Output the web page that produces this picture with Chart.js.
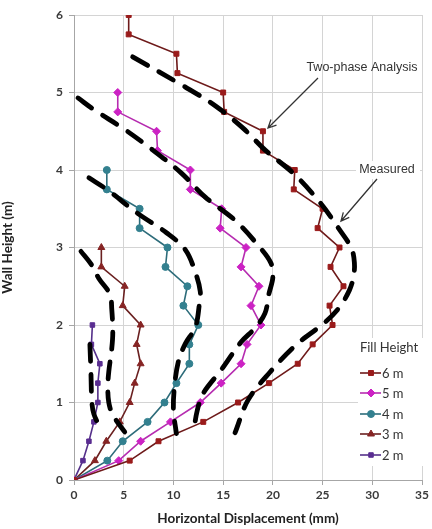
<!DOCTYPE html>
<html>
<head>
<meta charset="utf-8">
<script src="https://cdn.jsdelivr.net/npm/chart.js@4.4.0/dist/chart.umd.min.js"></script>
<style>
    html, body { margin: 0; padding: 0; background: #fff; }
    #wrap { width: 432px; height: 529px; }
</style>
</head>
<body>
<div id="wrap"><canvas id="wall_chart" width="432" height="529"></canvas></div>
<script>
// wall heights at which the two-phase analysis was evaluated (m)
var wallHeight = [0, 0.25, 0.5, 0.75, 1, 1.25, 1.5, 1.75, 2, 2.25, 2.5, 2.75, 3, 3.25, 3.5, 3.75, 4, 4.25, 4.5, 4.75, 5, 5.25, 5.5, 5.75, 6];

// two-phase analysis, horizontal displacement (mm), bottom to top
var analysis6m = [0, 5.6, 8.5, 13.0, 16.5, 19.6, 22.5, 24.0, 26.0, 25.7, 27.1, 25.8, 26.7, 24.5, 25.0, 22.1, 22.2, 19.0, 19.0, 15.1, 15.0, 10.4, 10.3, 5.5, 5.5];
var analysis5m = [0, 4.5, 6.7, 9.7, 12.7, 14.8, 16.8, 17.4, 18.8, 17.8, 18.6, 16.8, 17.3, 14.7, 14.85, 11.7, 11.7, 8.4, 8.3, 4.4, 4.4];
var analysis4m = [0, 3.35, 4.9, 7.4, 9.1, 10.3, 11.6, 11.6, 12.5, 11.0, 11.4, 9.2, 9.4, 6.6, 6.6, 3.3, 3.3];
var analysis3m = [0, 2.1, 3.25, 4.6, 5.6, 6.1, 6.7, 6.3, 6.7, 4.9, 5.1, 2.75, 2.75];
var analysis2m = [0, 0.9, 1.5, 2.0, 2.4, 2.4, 2.6, 1.75, 1.85];

// measured profiles (dashed)
var measured6mX = [5.9, 11.2, 14.2, 17.0, 19.2, 22.2, 24.8, 26.7, 27.9, 28.2, 28.1, 27.7, 26.7, 25.2, 22.3, 19.7, 17.5, 16.2];
var measured6mY = [5.46, 5.07, 4.83, 4.54, 4.26, 3.94, 3.57, 3.23, 2.99, 2.8, 2.62, 2.45, 2.23, 2.03, 1.74, 1.39, 1.03, 0.61];
var measured5mX = [0.4, 2.1, 4.9, 7.9, 10.8, 13.2, 16.2, 18.7, 19.8, 20.0, 19.6, 19.2, 18.2, 16.8, 14.8, 13.0, 12.4, 12.0];
var measured5mY = [4.93, 4.77, 4.54, 4.26, 3.96, 3.65, 3.35, 3.0, 2.8, 2.62, 2.4, 2.15, 1.96, 1.78, 1.42, 1.12, 0.9, 0.6];
var measured4mX = [1.5, 3.4, 6.4, 9.3, 11.2, 12.2, 12.7, 12.6, 12.2, 11.2, 10.5, 10.1, 10.0, 10.3];
var measured4mY = [3.9, 3.74, 3.44, 3.19, 2.97, 2.68, 2.43, 2.26, 1.97, 1.76, 1.53, 1.2, 0.9, 0.6];
var measured3mX = [0.7, 1.8, 2.5, 3.6, 3.8, 3.9, 3.8, 3.5, 3.4, 3.5, 3.9, 5.1];
var measured3mY = [2.95, 2.77, 2.6, 2.4, 2.2, 1.9, 1.7, 1.4, 1.2, 1.0, 0.84, 0.62];
var measured2mX = [1.6, 1.7, 1.8, 2.0, 2.6];
var measured2mY = [1.75, 1.4, 1.0, 0.85, 0.68];

var fillLabels = ["6 m", "5 m", "4 m", "3 m", "2 m"];
var xTicks = [0, 5, 10, 15, 20, 25, 30, 35];
var yTicks = [0, 1, 2, 3, 4, 5, 6];

function pairs(xs, ys) {
    return xs.map(function (x, i) { return { x: x, y: ys[i] }; });
}

function analysisSet(label, values, line, marker, style, radius) {
    return {
        label: label,
        data: pairs(values, wallHeight),
        showLine: true,
        borderColor: line,
        borderWidth: 1.6,
        backgroundColor: marker,
        pointBackgroundColor: marker,
        pointBorderColor: marker,
        pointStyle: style,
        pointRadius: radius,
        pointBorderWidth: 1,
        order: 2
    };
}

function measuredSet(xs, ys) {
    return {
        label: "Measured",
        data: pairs(xs, ys),
        showLine: true,
        borderColor: '#000',
        borderWidth: 4.8,
        borderDash: [17, 13],
        borderCapStyle: 'round',
        pointRadius: 0,
        tension: 0.35,
        measured: true,
        order: 1
    };
}

var legendAndNotes = {
    id: 'legendAndNotes',
    afterDatasetsDraw: function (chart) {
        var ctx = chart.ctx;
        ctx.save();

        // legend box
        ctx.fillStyle = '#fff';
        ctx.fillRect(358, 338, 68, 128);
        ctx.fillStyle = '#333';
        ctx.font = '13px Lato';
        ctx.textAlign = 'center';
        ctx.textBaseline = 'middle';
        ctx.fillText('Fill Height', 389, 348);

        var rows = [373, 393, 414, 434, 455];
        chart.data.datasets.filter(function (d) { return !d.measured; }).forEach(function (d, i) {
            var y = rows[i];
            ctx.strokeStyle = d.borderColor;
            ctx.lineWidth = 1.6;
            ctx.beginPath();
            ctx.moveTo(360, y);
            ctx.lineTo(381, y);
            ctx.stroke();
            ctx.fillStyle = d.pointBackgroundColor;
            ctx.strokeStyle = d.pointBorderColor;
            ctx.lineWidth = 1;
            Chart.helpers.drawPoint(ctx, { pointStyle: d.pointStyle, radius: d.pointRadius, borderWidth: 1 }, 371, y);
            ctx.fillStyle = '#333';
            ctx.textAlign = 'left';
            ctx.fillText(d.label, 382, y + 1);
        });

        // annotations
        ctx.font = '12.5px "Liberation Sans"';
        ctx.textAlign = 'center';
        ctx.fillStyle = '#fff';
        ctx.fillRect(356, 161, 64, 18);
        ctx.fillStyle = '#333';
        ctx.fillText('Two-phase Analysis', 362, 68);
        ctx.fillText('Measured', 387, 170);

        arrow(ctx, 318, 78, 268, 128);
        arrow(ctx, 377, 179, 341, 221);
        ctx.restore();
    }
};

function arrow(ctx, x1, y1, x2, y2) {
    var a = Math.atan2(y2 - y1, x2 - x1);
    ctx.strokeStyle = '#333';
    ctx.lineWidth = 1.3;
    ctx.beginPath();
    ctx.moveTo(x1, y1);
    ctx.lineTo(x2, y2);
    ctx.moveTo(x2 - 9 * Math.cos(a - 0.45), y2 - 9 * Math.sin(a - 0.45));
    ctx.lineTo(x2, y2);
    ctx.lineTo(x2 - 9 * Math.cos(a + 0.45), y2 - 9 * Math.sin(a + 0.45));
    ctx.stroke();
}

new Chart(document.getElementById("wall_chart").getContext("2d"), {
    type: 'scatter',
    data: {
        datasets: [
            analysisSet(fillLabels[0], analysis6m, '#6e1a1a', '#9a1b1b', 'rect', 3.5),
            analysisSet(fillLabels[1], analysis5m, '#b62cb0', '#cc22c4', 'rectRot', 4),
            analysisSet(fillLabels[2], analysis4m, '#2d6c7a', '#33808f', 'circle', 3.5),
            analysisSet(fillLabels[3], analysis3m, '#6a2020', '#862424', 'triangle', 4),
            analysisSet(fillLabels[4], analysis2m, '#55308a', '#5a2d91', 'rect', 3.2),
            measuredSet(measured6mX, measured6mY),
            measuredSet(measured5mX, measured5mY),
            measuredSet(measured4mX, measured4mY),
            measuredSet(measured3mX, measured3mY),
            measuredSet(measured2mX, measured2mY)
        ]
    },
    options: {
        responsive: false,
        animation: false,
        layout: { padding: { top: 15, right: 6, left: 0, bottom: 0 } },
        plugins: {
            legend: { display: false },
            tooltip: { enabled: false }
        },
        scales: {
            x: {
                type: 'linear',
                min: 0,
                max: 35,
                afterBuildTicks: function (s) { s.ticks = xTicks.map(function (v) { return { value: v }; }); },
                afterFit: function (s) { s.height = 49; },
                ticks: { font: { family: 'Lato', size: 12, weight: 'bold' }, color: '#3a3a3a', padding: 3 },
                grid: { color: '#d4d4d4', tickColor: '#a6a6a6', tickLength: 5 },
                border: { color: '#a6a6a6' },
                title: {
                    display: true,
                    text: 'Horizontal Displacement (mm)',
                    font: { family: 'Lato', size: 13.5, weight: 'bold' },
                    color: '#222',
                    padding: { top: 0, bottom: 2 }
                }
            },
            y: {
                type: 'linear',
                min: 0,
                max: 6,
                afterBuildTicks: function (s) { s.ticks = yTicks.map(function (v) { return { value: v }; }); },
                afterFit: function (s) { s.width = 74; },
                ticks: { font: { family: 'Lato', size: 12, weight: 'bold' }, color: '#3a3a3a', padding: 6 },
                grid: { color: '#d4d4d4', tickColor: '#a6a6a6', tickLength: 5 },
                border: { color: '#a6a6a6' },
                title: {
                    display: true,
                    text: 'Wall Height (m)',
                    font: { family: 'Lato', size: 13.5, weight: 'bold' },
                    color: '#222',
                    padding: { top: 0, bottom: 0 }
                }
            }
        }
    },
    plugins: [legendAndNotes]
});
</script>
</body>
</html>
